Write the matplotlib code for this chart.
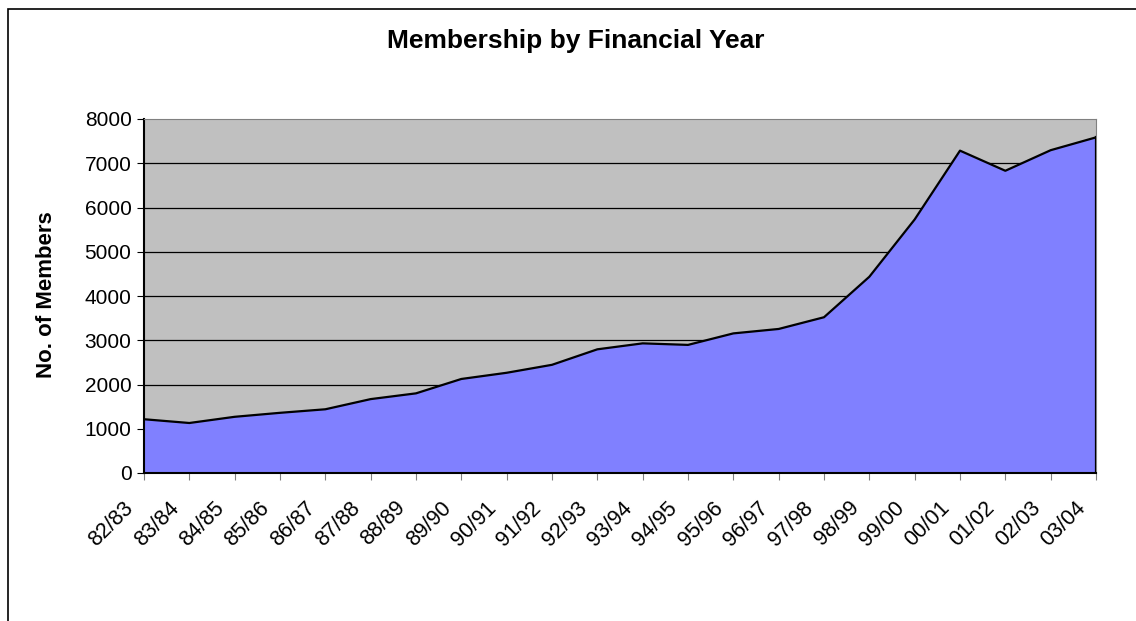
import numpy as np
import matplotlib.pyplot as plt
import matplotlib.transforms as mtransforms
from matplotlib.patches import Rectangle

plt.rcParams['font.family'] = ['Liberation Sans', 'DejaVu Sans']

years = ['82/83', '83/84', '84/85', '85/86', '86/87', '87/88', '88/89', '89/90',
         '90/91', '91/92', '92/93', '93/94', '94/95', '95/96', '96/97', '97/98',
         '98/99', '99/00', '00/01', '01/02', '02/03', '03/04']
members = [1215, 1130, 1270, 1360, 1440, 1670, 1800, 2125, 2265, 2445, 2795, 2930,
           2895, 3155, 3255, 3520, 4435, 5730, 7285, 6830, 7295, 7585]
y_ticks = [0, 1000, 2000, 3000, 4000, 5000, 6000, 7000, 8000]

fig = plt.figure(figsize=(11.36, 6.21), dpi=100)
ax = fig.add_axes([144 / 1136, 1 - 473 / 621, (1096 - 144) / 1136, (473 - 119) / 621])

x = np.arange(len(years))
ax.set_facecolor('#C0C0C0')
for t in y_ticks[1:-1]:
    ax.axhline(t, color='black', lw=0.9, zorder=1)
ax.fill_between(x, 0, members, facecolor='#8080FF', edgecolor='none', zorder=2)
ax.plot(x, members, color='black', lw=1.6, zorder=3)
ax.plot([x[-1], x[-1]], [0, members[-1]], color='black', lw=1.6, zorder=3)

ax.set_xlim(0, len(years) - 1)
ax.set_ylim(0, 8000)
ax.set_xticks(x)
ax.set_xticklabels(years, rotation=45, ha='right', rotation_mode='anchor', fontsize=15.5)
ax.set_yticks(y_ticks)
ax.set_yticklabels([str(t) for t in y_ticks], fontsize=15)
ax.tick_params(axis='x', length=5, color='#808080', pad=6)
ax.tick_params(axis='y', length=5, color='black', pad=4)

# shift category labels down-left like the original
shift = mtransforms.ScaledTranslation(-0.21, -0.09, fig.dpi_scale_trans)
for lab in ax.get_xticklabels():
    lab.set_transform(lab.get_transform() + shift)

ax.spines['left'].set_color('black')
ax.spines['bottom'].set_color('black')
ax.spines['left'].set_linewidth(1.5)
ax.spines['bottom'].set_linewidth(1.5)
ax.spines['top'].set_color('#808080')
ax.spines['right'].set_color('#808080')

fig.text(576 / 1136, 1 - 41 / 621, 'Membership by Financial Year', ha='center', va='center',
         fontsize=19, fontweight='bold')
fig.text(47 / 1136, 1 - 295 / 621, 'No. of Members', ha='center', va='center',
         rotation=90, fontsize=16, fontweight='bold')

fig.patches.append(Rectangle((8 / 1136, -0.1), 1.2, 1 - 9 / 621 + 0.1, transform=fig.transFigure,
                             fill=False, edgecolor='black', lw=1.2))

fig.savefig('out.png', dpi=100)
